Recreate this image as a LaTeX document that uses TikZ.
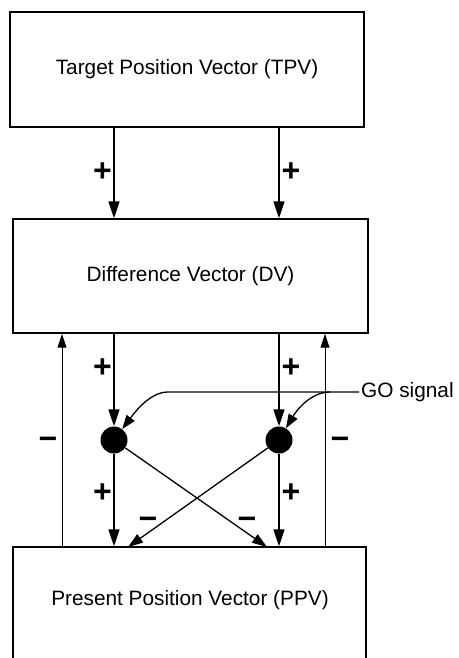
\documentclass[tikz,border=0pt]{standalone}
\usepackage{fontspec}
\setmainfont{Liberation Sans}
\usetikzlibrary{arrows.meta}
\begin{document}
\begin{tikzpicture}[x=1bp,y=-1bp,
  box/.style={draw,line width=1.4bp,rectangle,inner sep=0pt},
  txt/.style={font=\fontsize{20.8bp}{24bp}\selectfont,inner sep=0pt},
  dot/.style={circle,fill,inner sep=0pt,minimum size=27bp},
  big/.style={-{Triangle[length=17bp,width=11bp]},line width=1.6bp},
  mid/.style={-{Triangle[length=15bp,width=10bp]},line width=1.3bp},
  thin/.style={-{Triangle[length=14bp,width=9bp]},line width=1bp},
  go/.style={-{Triangle[length=14bp,width=10bp]},line width=1.3bp},
  sign/.style={font=\fontsize{32bp}{32bp}\selectfont\bfseries,inner sep=0pt}]
\clip (0,0) rectangle (459,658);
% boxes
\node[box,txt,minimum width=354bp,minimum height=115bp] (TPV) at (187,69.5) {Target Position Vector (TPV)};
\node[box,txt,minimum width=355bp,minimum height=114bp] (DV) at (190.5,276) {Difference Vector (DV)};
\node[box,minimum width=353bp,minimum height=153bp] (PPV) at (189.5,623.5) {};
\node[txt] (PPVt) at (190,600) {Present Position Vector (PPV)};
% dots
\node[dot] (L) at (114,440) {};
\node[dot] (R) at (279,440) {};
% helper coordinates
\coordinate (fbL) at (62,440);
\coordinate (fbR) at (325,440);
\coordinate (xl) at (128,547);
\coordinate (xr) at (267,547);
\coordinate (gobend) at (168,392);
\coordinate (gobr) at (330,392);
% TPV -> DV
\draw[big] (TPV.south -| L) -- (DV.north -| L);
\draw[big] (TPV.south -| R) -- (DV.north -| R);
% DV -> dots
\draw[big] (DV.south -| L) -- (L);
\draw[big] (DV.south -| R) -- (R);
% dots -> PPV
\draw[big] (L) -- (PPV.north -| L);
\draw[big] (R) -- (PPV.north -| R);
% cross
\draw[mid] (L) -- (xr);
\draw[mid] (R) -- (xl);
% feedback
\draw[thin] (PPV.north -| fbL) -- (DV.south -| fbL);
\draw[thin] (PPV.north -| fbR) -- (DV.south -| fbR);
% GO signal
\node[txt,anchor=west,inner sep=2bp] (go) at (359,392) {GO signal};
\draw[go] (go.west) -- (gobend) .. controls (150,392) and (135,412) .. (L);
\draw[go] (gobr) .. controls (312,392) and (298,408) .. (R);
% signs
\node[sign] (p1) at (102.5,172) {+};
\node[sign] (p2) at (291,172) {+};
\node[sign] (p3) at (102.5,368) {+};
\node[sign] (p4) at (291,368) {+};
\node[sign] (p5) at (102.5,493) {+};
\node[sign] (p6) at (291,493) {+};
\node[sign] (m1) at (48,443) {−};
\node[sign] (m2) at (340,443) {−};
\node[sign] (m3) at (148,523) {−};
\node[sign] (m4) at (247,523) {−};
\end{tikzpicture}
\end{document}
